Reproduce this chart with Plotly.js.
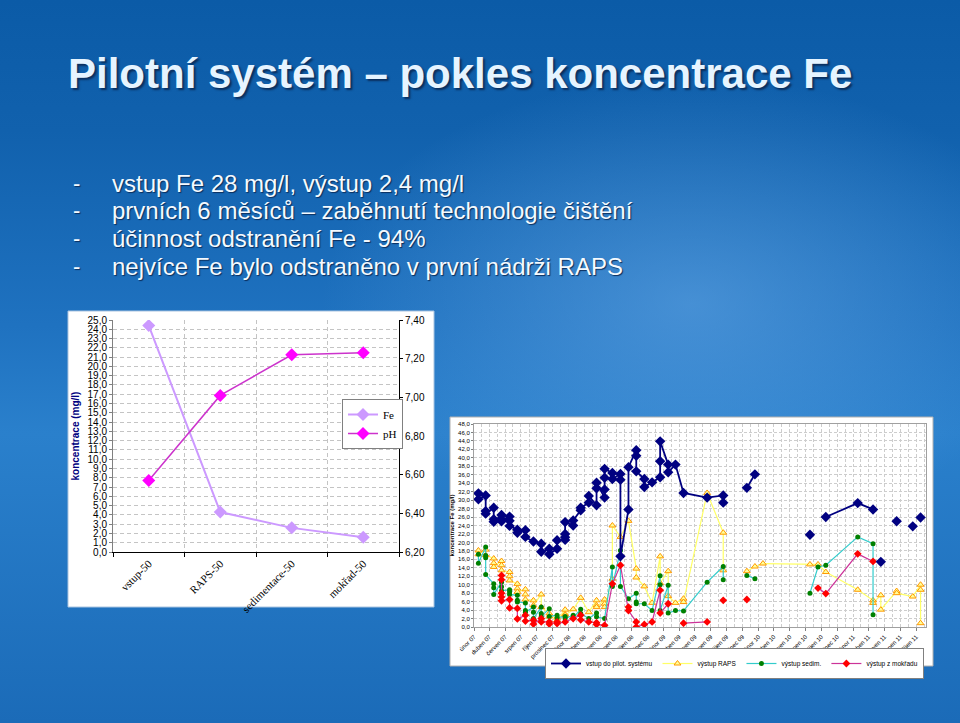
<!DOCTYPE html>
<html>
<head>
<meta charset="utf-8">
<script src="https://cdn.plot.ly/plotly-3.0.1.min.js"></script>
<style>
  html, body { margin: 0; padding: 0; }
  #wrap {
    width: 960px; height: 723px; position: relative; overflow: hidden;
    background:
      radial-gradient(ellipse 55% 45% at 72% 42%, rgba(110,175,235,0.5), rgba(110,175,235,0) 70%),
      linear-gradient(180deg, #0b5ba7 0%, #1161ad 18%, #1f72c0 45%, #2a80cc 60%, #1b6bb8 100%);
  }
  #chart { width: 960px; height: 723px; }
</style>
</head>
<body>
<div id="wrap"><div id="chart"></div></div>
<script>
// ---------------- text ----------------
const slideTitle = 'Pilotní systém – pokles koncentrace Fe';
const bulletLines = [
  'vstup Fe 28 mg/l, výstup 2,4 mg/l',
  'prvních 6 měsíců – zaběhnutí technologie čištění',
  'účinnost odstranění Fe - 94%',
  'nejvíce Fe bylo odstraněno v první nádrži RAPS'
];

// ---------------- left chart ----------------
const stages = ['vstup-50', 'RAPS-50', 'sedimentace-50', 'mokřad-50'];
const feStage = [24.4, 4.3, 2.6, 1.6];
const phStage = [6.57, 7.01, 7.22, 7.23];

// ---------------- right chart ----------------
const tickDates = ['2007-02-01','2007-04-01','2007-06-01','2007-08-01','2007-10-01','2007-12-01',
  '2008-02-01','2008-04-01','2008-06-01','2008-08-01','2008-10-01','2008-12-01',
  '2009-02-01','2009-04-01','2009-06-01','2009-08-01','2009-10-01','2009-12-01',
  '2010-02-01','2010-04-01','2010-06-01','2010-08-01','2010-10-01','2010-12-01',
  '2011-02-01','2011-04-01','2011-06-01','2011-08-01','2011-10-01'];
const tickLabels = ['únor 07','duben 07','červen 07','srpen 07','říjen 07','prosinec 07',
  'únor 08','duben 08','červen 08','srpen 08','říjen 08','prosinec 08',
  'únor 09','duben 09','červen 09','srpen 09','říjen 09','prosinec 09',
  'únor 10','duben 10','červen 10','srpen 10','říjen 10','prosinec 10',
  'únor 11','duben 11','červen 11','srpen 11','říjen 11'];

// vstup do pilot. systému
const vstupDate = ['2007-02-18','2007-02-18','2007-03-18','2007-03-18','2007-03-18',
  '2007-04-18','2007-04-18','2007-04-18','2007-05-18','2007-05-18','2007-05-18',
  '2007-06-18','2007-06-18','2007-06-18','2007-07-18','2007-07-18','2007-08-18','2007-08-18',
  '2007-09-18','2007-10-18','2007-10-18','2007-11-18','2007-11-18','2007-12-18','2007-12-18',
  '2008-01-18','2008-01-18','2008-01-18','2008-01-18','2008-02-18','2008-02-18',
  '2008-03-18','2008-03-18','2008-04-18','2008-04-18','2008-05-18','2008-05-18','2008-05-18',
  '2008-06-18','2008-06-18','2008-06-18','2008-06-18','2008-07-18','2008-07-18',
  '2008-08-18','2008-08-18','2008-08-18','2008-09-18','2008-09-18',
  '2008-10-18','2008-10-18','2008-10-18','2008-11-18','2008-11-18','2008-12-18',
  '2009-01-18','2009-01-18','2009-01-18','2009-02-18','2009-02-18','2009-03-18','2009-04-18',
  '2009-07-18','2009-09-18','2009-09-18','2009-10-18',
  '2009-12-18','2010-01-18','2010-02-18',
  '2010-08-18','2010-09-18',
  '2010-10-18','2011-02-18','2011-04-18','2011-04-30',
  '2011-05-18','2011-06-18','2011-07-18','2011-08-18','2011-09-18','2011-09-30','2011-10-18'];
const vstupFe = [31.6,30.2, 31.1,27.4,26.8,
  28.2,25.5,24.9, 26.5,25.5,25.0,
  26.1,25.1,23.9, 23.0,22.3, 22.9,21.3,
  20.2, 19.7,17.8, 18.5,17.2, 18.5,20.5,
  20.6,21.2,22.0,24.8, 24.0,25.2,
  27.6,28.2, 29.4,31.0, 28.8,32.8,34.1,
  30.6,32.5,35.3,37.4, 36.4,35.0,
  36.2,34.8,16.7, 27.8,37.8,
  41.8,40.5,36.8, 35.0,33.1, 34.2,
  35.4,39.2,43.9, 38.4,36.6, 38.4, 31.7,
  30.6, 31.1,29.4, null,
  32.9, 36.1, null,
  21.8, null,
  26.0, 29.3, 27.8, null,
  15.4, null, 25.0, null, 23.8, null, 25.9];

// výstup RAPS
const rapsDate = ['2007-02-18','2007-02-18','2007-03-18','2007-03-18',
  '2007-04-18','2007-04-18','2007-04-18','2007-05-18','2007-05-18','2007-05-18',
  '2007-06-18','2007-06-18','2007-06-18','2007-07-18','2007-07-18','2007-07-18',
  '2007-08-18','2007-08-18','2007-08-18','2007-09-18','2007-09-18','2007-10-18','2007-10-18',
  '2007-11-18','2007-11-18','2007-12-18','2007-12-18','2008-01-18','2008-01-18','2008-01-18',
  '2008-02-18','2008-03-18','2008-04-18','2008-05-18','2008-05-18','2008-05-18',
  '2008-06-18','2008-06-18','2008-06-18','2008-07-18','2008-07-18','2008-08-18','2008-09-18',
  '2008-10-18','2008-10-18','2008-11-18','2008-12-18','2009-01-18','2009-01-18',
  '2009-02-18','2009-02-18','2009-03-18','2009-04-18','2009-04-18',
  '2009-07-18','2009-09-18','2009-09-18','2009-10-18',
  '2009-12-18','2010-01-18','2010-02-18','2010-08-18','2010-09-18','2010-10-18',
  '2011-02-18','2011-04-18','2011-04-18','2011-05-18','2011-05-18',
  '2011-07-18','2011-07-18','2011-09-18','2011-10-18','2011-10-18','2011-10-18'];
const rapsFe = [18.1,17.2, 18.3,17.0,
  16.2,15.1,14.2, 15.6,14.6,13.4,
  13.0,12.0,11.0, 10.2,9.1,8.3,
  8.9,7.7,6.5, 6.3,5.1, 7.7,4.7,
  3.2,2.5, 2.2,1.6, 4.1,3.0,2.8,
  4.2, 6.9, 3.5, 6.3,5.1,4.7,
  6.5,5.5,4.7, 11.4,24.0, 21.3, 25.1,
  13.8,11.7, 9.6, 5.7, 16.7,10.4,
  13.2,7.3, 5.7, 6.7,5.9,
  31.7, 22.3,13.4, null,
  13.2, 14.3, 15.0, 14.8, 14.8, 13.0,
  8.8, 6.3,5.7, 7.5,4.1,
  8.5,8.0, 7.2, 10.0,8.8,0.9];

// výstup sedim.
const sedDate = ['2007-02-18','2007-02-18','2007-03-18','2007-03-18','2007-03-18','2007-03-18',
  '2007-04-18','2007-04-18','2007-04-18','2007-05-18','2007-05-18','2007-05-18',
  '2007-06-18','2007-06-18','2007-06-18','2007-07-18','2007-07-18','2007-07-18',
  '2007-08-18','2007-08-18','2007-08-18','2007-09-18','2007-09-18','2007-09-18',
  '2007-10-18','2007-10-18','2007-10-18','2007-11-18','2007-11-18','2007-12-18','2007-12-18',
  '2008-01-18','2008-01-18','2008-02-18','2008-02-18','2008-03-18','2008-03-18','2008-04-18',
  '2008-05-18','2008-05-18','2008-06-18','2008-07-18','2008-07-18','2008-08-18','2008-08-18',
  '2008-09-18','2008-10-18','2008-10-18','2008-10-18','2008-11-18','2008-12-18',
  '2009-01-18','2009-01-18','2009-01-18','2009-02-18','2009-02-18','2009-03-18','2009-04-18',
  '2009-07-18','2009-09-18','2009-09-18','2009-10-18',
  '2009-12-18','2010-01-18','2010-02-18',
  '2010-08-18','2010-09-18','2010-10-18','2011-02-18','2011-04-18','2011-04-18'];
const sedFe = [17.2,15.1, 18.9,16.9,16.4,12.4,
  10.2,9.3,7.7, 10.6,9.5,8.6,
  8.8,8.3,7.7, 7.5,6.3,5.9,
  5.7,3.9,3.5, 4.7,3.5,2.0,
  4.7,3.2,2.5, 4.3,2.5, 2.8,2.2,
  2.5,2.0, 2.8,2.2, 4.2,3.2, 2.0,
  3.3,2.4, 2.0, 14.2,9.6, 18.1,9.6,
  6.7, 8.0,5.9,5.5, 5.5, 3.9,
  12.1,10.0,3.9, 9.9,3.3, 3.9, 3.8,
  10.6, 14.3,11.2, null,
  12.2, 11.4, null,
  8.0, 14.2, 14.6, 21.3, 19.7,2.9];

// výstup z mokřadu
const mokDate = ['2007-05-18','2007-05-18','2007-05-18','2007-05-18','2007-05-18',
  '2007-06-18','2007-06-18','2007-07-18','2007-07-18','2007-08-18','2007-08-18',
  '2007-09-18','2007-09-18','2007-10-18','2007-10-18','2007-11-18','2007-11-18',
  '2007-12-18','2007-12-18','2008-01-18','2008-02-18','2008-03-18','2008-03-18','2008-04-18',
  '2008-05-18','2008-05-18','2008-06-18','2008-07-18','2008-08-18','2008-09-18','2008-09-18',
  '2008-10-18','2008-10-18','2008-11-18','2008-12-18','2009-01-18','2009-01-18','2009-02-18',
  '2009-03-18','2009-04-18','2009-07-18','2009-08-18','2009-09-18','2009-10-18',
  '2009-12-18','2010-01-18','2010-09-18','2010-10-18','2011-02-18','2011-04-18'];
const mokFe = [12.2,11.2,8.0,7.1,6.2,
  6.5,4.5, 4.4,1.9, 2.8,1.4,
  1.6,0.7, 2.0,1.2, 1.2,0.7,
  1.2,0.8, 1.2, 2.0, 2.8,1.7, 1.2,
  1.0,0.6, 0.4, 10.2, 14.6, 4.7,3.9,
  1.2,0.0, 0.6, 1.2, 8.7,3.3, 5.5,
  null, 0.9, 1.2, null, 6.3, null,
  6.5, null, 9.2, 7.9, 17.3, 15.5];

// ---------------- figure ----------------
const FONT = 'Liberation Sans, Arial, sans-serif';
const SERIF = 'Liberation Serif, Times New Roman, serif';
const W = 960, H = 723;
const px = v => v / W, py = v => 1 - v / H;

const traces = [
  { type: 'scatter', mode: 'lines+markers', name: 'Fe', x: stages, y: feStage,
    xaxis: 'x', yaxis: 'y', legend: 'legend',
    line: { color: '#CC99FF', width: 2 },
    marker: { symbol: 'diamond', size: 10, color: '#CC99FF' } },
  { type: 'scatter', mode: 'lines+markers', name: 'pH', x: stages, y: phStage,
    xaxis: 'x', yaxis: 'y2', legend: 'legend',
    line: { color: '#CC33CC', width: 1.5 },
    marker: { symbol: 'diamond', size: 10, color: '#FF00FF' } },
  { type: 'scatter', mode: 'lines+markers', name: 'výstup RAPS', x: rapsDate, y: rapsFe,
    xaxis: 'x2', yaxis: 'y3', legend: 'legend2', legendrank: 2,
    line: { color: '#FFFF66', width: 1.2 },
    marker: { symbol: 'triangle-up', size: 6, color: '#FFFF99', line: { color: '#FF9900', width: 1 } } },
  { type: 'scatter', mode: 'lines+markers', name: 'výstup sedim.', x: sedDate, y: sedFe,
    xaxis: 'x2', yaxis: 'y3', legend: 'legend2', legendrank: 3,
    line: { color: '#33CCCC', width: 1.2 },
    marker: { symbol: 'circle', size: 5, color: '#008000' } },
  { type: 'scatter', mode: 'lines+markers', name: 'výstup z mokřadu', x: mokDate, y: mokFe,
    xaxis: 'x2', yaxis: 'y3', legend: 'legend2', legendrank: 4,
    line: { color: '#CC3399', width: 1.2 },
    marker: { symbol: 'diamond', size: 6, color: '#FF0000' } },
  { type: 'scatter', mode: 'lines+markers', name: 'vstup do pilot. systému', x: vstupDate, y: vstupFe,
    xaxis: 'x2', yaxis: 'y3', legend: 'legend2', legendrank: 1,
    line: { color: '#000080', width: 1.8 },
    marker: { symbol: 'diamond', size: 8, color: '#000080' } }
];

const annotations = [
  { text: slideTitle, x: px(66), y: py(74), xref: 'paper', yref: 'paper',
    xanchor: 'left', yanchor: 'middle', showarrow: false,
    font: { family: FONT, size: 42, color: '#E6F4FF', weight: 'bold', shadow: '2px 2px 2px #0b2e5c' } }
];
bulletLines.forEach((t, i) => {
  const yy = 183 + i * 27.8;
  annotations.push({ text: '-', x: px(76), y: py(yy), xref: 'paper', yref: 'paper',
    xanchor: 'center', yanchor: 'middle', showarrow: false,
    font: { family: FONT, size: 22, color: '#F4FAFF', shadow: '1px 1px 1px #0b2e5c' } });
  annotations.push({ text: t, x: px(110), y: py(yy), xref: 'paper', yref: 'paper',
    xanchor: 'left', yanchor: 'middle', showarrow: false,
    font: { family: FONT, size: 24, color: '#F4FAFF', shadow: '1px 1px 1px #0b2e5c' } });
});

const gridL = { gridcolor: '#C4C4C4', griddash: '4px,3px', gridwidth: 1 };
const gridR = { gridcolor: '#CDCDCD', griddash: '3px,2px', gridwidth: 1 };

const layout = {
  width: W, height: H,
  margin: { l: 0, r: 0, t: 0, b: 0 },
  paper_bgcolor: 'rgba(0,0,0,0)',
  plot_bgcolor: '#FFFFFF',
  separators: ', ',
  hovermode: false,
  showlegend: true,
  font: { family: FONT, color: '#000000' },
  shapes: [
    { type: 'rect', xref: 'paper', yref: 'paper', layer: 'below',
      x0: px(68), x1: px(434), y0: py(607), y1: py(311),
      fillcolor: '#FFFFFF', line: { color: '#A9C4E0', width: 1 } },
    { type: 'rect', xref: 'paper', yref: 'paper', layer: 'below',
      x0: px(450), x1: px(933), y0: py(666), y1: py(417),
      fillcolor: '#FFFFFF', line: { color: '#B0B0B0', width: 1 } }
  ],
  annotations: annotations,
  xaxis: {
    domain: [px(113), px(399)], anchor: 'y',
    type: 'category', range: [-0.5, 3.5],
    tickson: 'boundaries', showgrid: true, ...gridL,
    showline: true, linecolor: '#000000', linewidth: 1,
    ticks: 'outside', ticklen: 4, tickcolor: '#000000',
    tickangle: -45, tickfont: { family: SERIF, size: 11, color: '#000000' }
  },
  yaxis: {
    domain: [py(552), py(320)], anchor: 'x',
    range: [0, 25], dtick: 1, tickformat: '.1f',
    showgrid: true, ...gridL, zeroline: false,
    showline: true, linecolor: '#808080', linewidth: 1,
    ticks: 'outside', ticklen: 3, tickcolor: '#808080',
    tickfont: { family: FONT, size: 10, color: '#000000' },
    title: { text: 'koncentrace (mg/l)', standoff: 6,
      font: { family: FONT, size: 10, color: '#000080', weight: 'bold' } }
  },
  yaxis2: {
    overlaying: 'y', side: 'right', anchor: 'x',
    range: [6.2, 7.4], dtick: 0.2, tickformat: '.2f',
    showgrid: false, zeroline: false,
    showline: true, linecolor: '#000000', linewidth: 1,
    ticks: 'outside', ticklen: 3, tickcolor: '#000000',
    tickfont: { family: FONT, size: 10, color: '#000000' }
  },
  xaxis2: {
    domain: [px(474), px(926)], anchor: 'y3',
    type: 'date', range: ['2007-02-01', '2011-11-08'],
    tickmode: 'array', tickvals: tickDates, ticktext: tickLabels,
    tickangle: -45, tickfont: { family: FONT, size: 6, color: '#000000' },
    showgrid: true, ...gridR,
    minor: { dtick: 'M1', tick0: '2007-02-01', showgrid: true, gridcolor: '#CDCDCD', griddash: '3px,2px', gridwidth: 1 },
    showline: true, mirror: true, linecolor: '#A0A0A0', linewidth: 1,
    ticks: 'outside', ticklen: 3, tickcolor: '#808080'
  },
  yaxis3: {
    domain: [py(627), py(424)], anchor: 'x2',
    range: [0, 48], dtick: 2, tickformat: '.1f',
    showgrid: true, ...gridR, zeroline: false,
    showline: true, mirror: true, linecolor: '#A0A0A0', linewidth: 1,
    ticks: 'outside', ticklen: 2, tickcolor: '#808080',
    tickfont: { family: FONT, size: 6, color: '#000000' },
    title: { text: 'koncentrace Fe (mg/l)', standoff: 3,
      font: { family: FONT, size: 6, color: '#000000', weight: 'bold' } }
  },
  legend: {
    x: px(342), y: py(399), xanchor: 'left', yanchor: 'top',
    bgcolor: '#FFFFFF', bordercolor: '#808080', borderwidth: 1,
    font: { family: SERIF, size: 11, color: '#000000' },
    itemwidth: 30, tracegroupgap: 4
  },
  legend2: {
    orientation: 'h', x: px(545), y: py(648), xanchor: 'left', yanchor: 'top',
    bgcolor: '#FFFFFF', bordercolor: '#808080', borderwidth: 1,
    font: { family: FONT, size: 6.5, color: '#000000' },
    itemwidth: 30, traceorder: 'normal'
  }
};

Plotly.newPlot('chart', traces, layout, { displayModeBar: false, staticPlot: true });
</script>
</body>
</html>
